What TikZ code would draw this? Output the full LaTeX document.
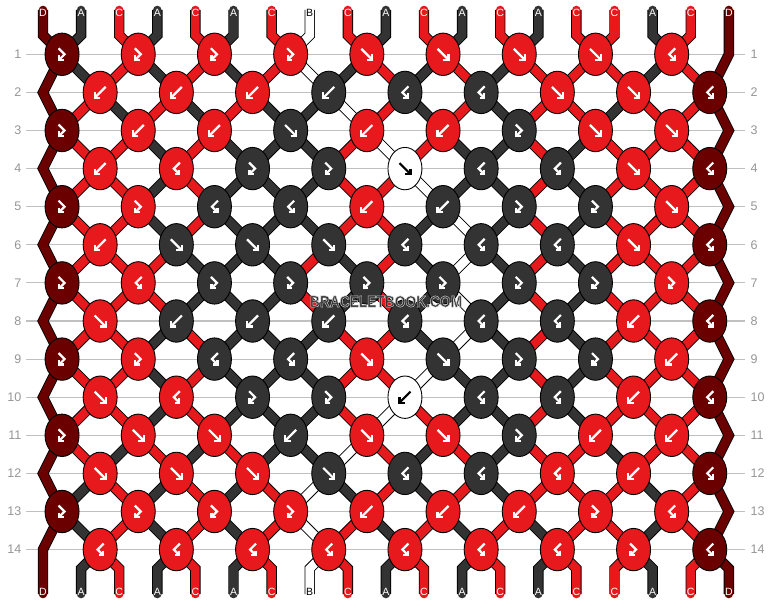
\documentclass[tikz,border=0pt]{standalone}
\usepackage{fontspec}
\setmainfont{Liberation Sans}
\usetikzlibrary{shapes.geometric}

\definecolor{rouge}{RGB}{232,25,28}
\definecolor{gris}{RGB}{51,51,51}
\definecolor{bordeaux}{RGB}{107,0,0}
\definecolor{trait}{RGB}{192,192,192}
\definecolor{chiffre}{RGB}{150,150,150}

\pgfdeclarelayer{fond}
\pgfdeclarelayer{fils}
\pgfsetlayers{fond,fils,main}

% texte avec un contour clair
\newcommand\texteclair[1]{\special{pdf:literal direct 2 Tr 0.5 w 0.8 0.8 0.8 RG}#1\special{pdf:literal direct 0 Tr}}

\tikzset{
  noeud/.style={ellipse, draw=black, line width=0.9pt, minimum width=34pt,
    minimum height=42.4pt, inner sep=0pt},
  noeudR/.style={noeud, fill=rouge},
  noeudK/.style={noeud, fill=gris},
  noeudD/.style={noeud, fill=bordeaux},
  noeudW/.style={noeud, fill=white},
  icoR/.style={white}, icoK/.style={white}, icoD/.style={white}, icoW/.style={black},
  fleche/.style={line width=2.2pt, line cap=butt, line join=miter},
  fil/.style={line width=8.6pt, line cap=round, preaction={draw=black, line width=10.4pt}},
  filA/.style={fil, draw=gris},
  filB/.style={fil, draw=white},
  filC/.style={fil, draw=rouge},
  filD/.style={fil, draw=bordeaux},
  etiq/.style={font=\fontsize{10.5}{10.5}\selectfont, text=white, inner sep=0pt},
  etiqA/.style={etiq}, etiqC/.style={etiq}, etiqD/.style={etiq},
  etiqB/.style={etiq, text=black},
  num/.style={font=\fontsize{12.5}{12.5}\selectfont, text=chiffre, inner sep=0pt},
  marque/.style={font=\bfseries\fontsize{16}{16}\selectfont, text=black!80, inner sep=0pt},
  % fleches des noeuds
  pics/f/.style={code={\draw[fleche] (-5.5,-5.5) -- (5.5,5.5);
    \draw[fleche] (0,5.5) -- (5.5,5.5) -- (5.5,0);}},
  pics/b/.style={code={\draw[fleche] (5.5,-5.5) -- (-5.5,5.5);
    \draw[fleche] (0,5.5) -- (-5.5,5.5) -- (-5.5,0);}},
  pics/fb/.style={code={\draw[fleche] (-3.5,-6) -- (2.5,0) -- (-3,5.5);
    \draw[fleche] (-3,1) -- (-3,5.5) -- (1.5,5.5);}},
  pics/bf/.style={code={\draw[fleche] (3.5,-6) -- (-2.5,0) -- (3,5.5);
    \draw[fleche] (3,1) -- (3,5.5) -- (-1.5,5.5);}},
}

\begin{document}
\begin{tikzpicture}[x=1pt, y=-1pt]

  \useasboundingbox (0,0) rectangle (772,604);
  \def\s{38.1}

% Fond et rangs
\begin{pgfonlayer}{fond}
  \fill[white] (0,0) rectangle (772,604);
  \foreach \r in {1,...,14}{
    \pgfmathsetmacro\y{54.3+\s*(\r-1)}
    \draw[trait, line width=1.1pt] (26,\y) -- (745,\y);
  }
\end{pgfonlayer}

  \foreach \r in {1,...,14}{
    \pgfmathsetmacro\y{54.3+\s*(\r-1)}
    \node[num, anchor=east] (rg\r) at (21.5,\y) {\r};
    \node[num, anchor=west] (rd\r) at (750.5,\y) {\r};
  }

% Noeuds
  \foreach \ligne [count=\r] in {
    {D/fb,R/fb,R/fb,R/fb,R/f,R/f,R/f,R/f,R/bf},
    {R/b,R/b,R/b,K/b,K/bf,K/bf,R/f,R/f,D/bf},
    {D/fb,R/b,R/b,K/f,R/b,R/b,K/fb,R/f,R/f},
    {R/b,R/bf,K/fb,K/fb,W/f,K/bf,K/bf,R/f,D/bf},
    {D/fb,R/fb,K/bf,K/bf,R/b,K/b,K/fb,K/fb,R/f},
    {R/b,K/f,K/f,K/f,K/bf,K/bf,K/bf,R/f,D/bf},
    {D/fb,R/bf,K/fb,K/fb,K/fb,K/fb,K/fb,K/fb,R/fb},
    {R/f,K/b,K/b,K/b,K/bf,K/bf,K/bf,R/b,D/bf},
    {D/fb,R/fb,K/bf,K/bf,R/f,K/f,K/fb,K/fb,R/b},
    {R/f,R/bf,K/fb,K/fb,W/b,K/bf,K/bf,R/b,D/bf},
    {D/fb,R/f,R/f,K/b,R/f,R/f,K/fb,R/b,R/b},
    {R/f,R/f,R/f,K/f,K/bf,K/bf,R/bf,R/b,D/bf},
    {D/fb,R/fb,R/fb,R/fb,R/b,R/b,R/b,R/fb,R/bf},
    {R/bf,R/bf,R/bf,R/bf,R/bf,R/bf,R/bf,R/fb,D/bf}}{
    \pgfmathsetmacro\y{54.3+\s*(\r-1)}
    \foreach \cl/\tp [count=\k] in \ligne {
      \pgfmathsetmacro\x{43+\s*(2*\k-1.5+mod(\r+1,2))}
      \node[noeud\cl] (n\r-\k) at (\x,\y) {};
      \pic[ico\cl] at (\x,\y) {\tp};
    }
  }

% Bouts des fils
  \foreach \col [count=\p] in {D,A,C,A,C,A,C,B,C,A,C,A,C,A,C,C,A,C,D}{
    \pgfmathsetmacro\x{43+\s*(\p-1)}
    \coordinate (h\p) at (\x,10);
    \coordinate (f\p) at (\x,594);
    \node[etiq\col] (eh\p) at (\x,12.6) {\col};
    \node[etiq\col] (eb\p) at (\x,592.3) {\col};
  }
  \foreach \r in {2,4,...,14} \coordinate (g\r) at (43,{54.3+\s*(\r-1)});
  \foreach \r in {1,3,...,13} \coordinate (d\r) at (728.8,{54.3+\s*(\r-1)});

% Fils
\begin{pgfonlayer}{fils}
  % bords (D)
  \draw[filD] (h1) -- (43,35.25) \foreach \r [evaluate=\r as \rr using int(\r+1)] in {1,3,...,13}
    {-- (n\r-1.center) -- (g\rr)} -- (f1);
  \draw[filD] (h19) \foreach \r [evaluate=\r as \rr using int(\r+1)] in {1,3,...,13}
    {-- (d\r) -- (n\rr-9.center)} -- (728.8,568.65) -- (f19);

  % haut et bas
  \foreach \col [count=\p] in {D,A,C,A,C,A,C,B,C,A,C,A,C,A,C,C,A,C,D}{
    \ifnum\p>1 \ifnum\p<19
      \pgfmathtruncatemacro\k{floor((\p+1)/2)}
      \draw[fil\col] (h\p) -- ++(0,25.25) -- (n1-\k.center);
      \pgfmathtruncatemacro\k{floor(\p/2)}
      \pgfmathsetmacro\x{43+\s*(\p-1)}
      \draw[fil\col] (n14-\k.center) -- (\x,568.65) -- (f\p);
    \fi\fi
  }

  % entre les rangs
  \foreach \etat [count=\r] in {
    {D,A,C,A,C,A,C,B,A,C,A,C,A,C,C,C,A,C,D},
    {D,C,A,C,A,C,A,A,B,C,A,C,A,C,C,A,C,C,D},
    {D,C,C,A,C,A,A,A,C,B,C,A,A,C,A,C,C,C,D},
    {D,C,C,A,C,A,A,A,C,C,B,A,A,C,A,C,C,C,D},
    {D,C,C,A,C,A,A,A,C,C,A,B,A,C,A,C,C,C,D},
    {D,C,C,C,A,A,A,C,A,C,A,B,A,C,A,C,C,C,D},
    {D,C,C,C,A,A,A,C,A,C,A,B,A,C,A,C,C,C,D},
    {D,C,C,A,C,A,A,A,C,C,A,B,A,C,A,C,C,C,D},
    {D,C,C,A,C,A,A,A,C,C,B,A,A,C,A,C,C,C,D},
    {D,C,C,A,C,A,A,A,C,B,C,A,A,C,A,C,C,C,D},
    {D,C,A,C,A,C,A,A,B,C,A,C,A,C,C,A,C,C,D},
    {D,A,C,A,C,A,C,B,A,C,A,C,A,C,C,C,A,C,D},
    {D,A,C,A,C,A,C,B,C,A,C,A,C,A,C,C,A,C,D}}{
    \pgfmathtruncatemacro\rr{\r+1}
    \foreach \col [count=\p] in \etat {
      \ifnum\p>1 \ifnum\p<19
        \pgfmathtruncatemacro\ka{floor((\p+mod(\r,2))/2)}
        \pgfmathtruncatemacro\kb{floor((\p+mod(\rr,2))/2)}
        \draw[fil\col] (n\r-\ka.center) -- (n\rr-\kb.center);
      \fi\fi
    }
  }
\end{pgfonlayer}

% Marque
  \node[marque] (marque) at (386,301.5) {\scalebox{0.86}[1]{\texteclair{BRACELETBOOK.COM}}};

\end{tikzpicture}
\end{document}
